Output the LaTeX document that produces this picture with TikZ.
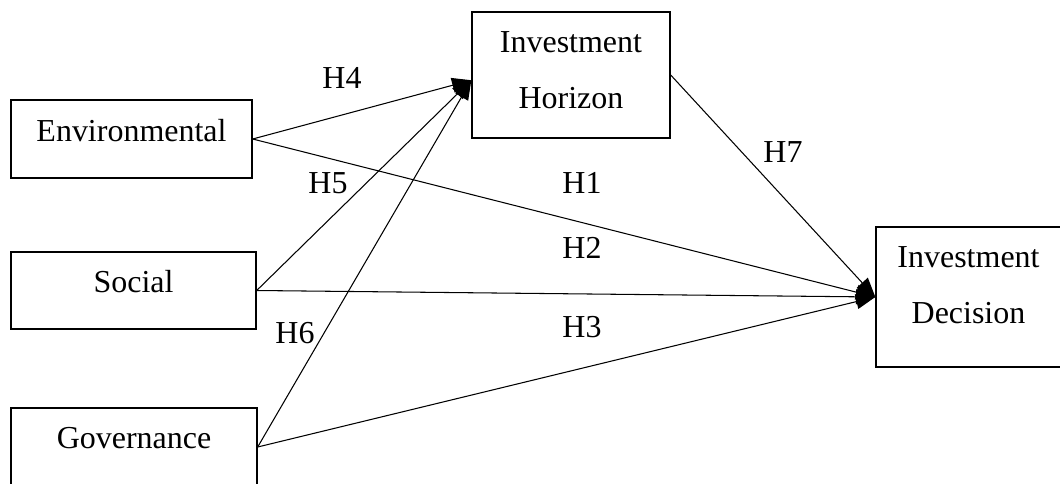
\documentclass[tikz,border=0pt]{standalone}
\usepackage{fontspec}
\setmainfont{Liberation Serif}
\usetikzlibrary{arrows.meta}
\begin{document}
\begin{tikzpicture}[x=0.02cm, y=-0.02cm,
  font=\fontsize{18.2pt}{31.8pt}\selectfont,
  box/.style={draw, line width=0.8pt, align=center, inner sep=0pt},
  link/.style={line width=0.6pt, -{Triangle[length=11pt, width=8.5pt]}},
  hyp/.style={inner sep=0pt}]
  \useasboundingbox (0,0) rectangle (1060,483);
  \node[box, minimum width=4.82cm, minimum height=1.56cm, text depth=10pt] (env) at (131.5,139) {Environmental};
  \node[box, minimum width=4.9cm, minimum height=1.54cm, text depth=10pt] (soc) at (133.5,290.5) {Social};
  \node[box, minimum width=4.92cm, minimum height=1.56cm, text depth=10pt] (gov) at (134,447) {Governance};
  \node[box, minimum width=3.96cm, minimum height=2.52cm, text depth=6pt] (hor) at (571,75) {Investment\\Horizon};
  \node[box, minimum width=3.7cm, minimum height=2.8cm, text depth=13.5pt] (dec) at (968.5,297) {Investment\\Decision};
  \draw[link] (env.east) -- (hor.183);
  \draw[link] (soc.east) -- (hor.183);
  \draw[link] (gov.east) -- (hor.183);
  \draw[link] (env.east) -- (dec.west);
  \draw[link] (soc.east) -- (dec.west);
  \draw[link] (gov.east) -- (dec.west);
  \draw[link] (hor.east) -- (dec.west);
  \node[hyp] (h4) at (342,78) {H4};
  \node[hyp] (h5) at (328,183) {H5};
  \node[hyp] (h6) at (295,333) {H6};
  \node[hyp] (h1) at (582,183) {H1};
  \node[hyp] (h2) at (582,248) {H2};
  \node[hyp] (h3) at (582,327) {H3};
  \node[hyp] (h7) at (783,152) {H7};
\end{tikzpicture}
\end{document}
